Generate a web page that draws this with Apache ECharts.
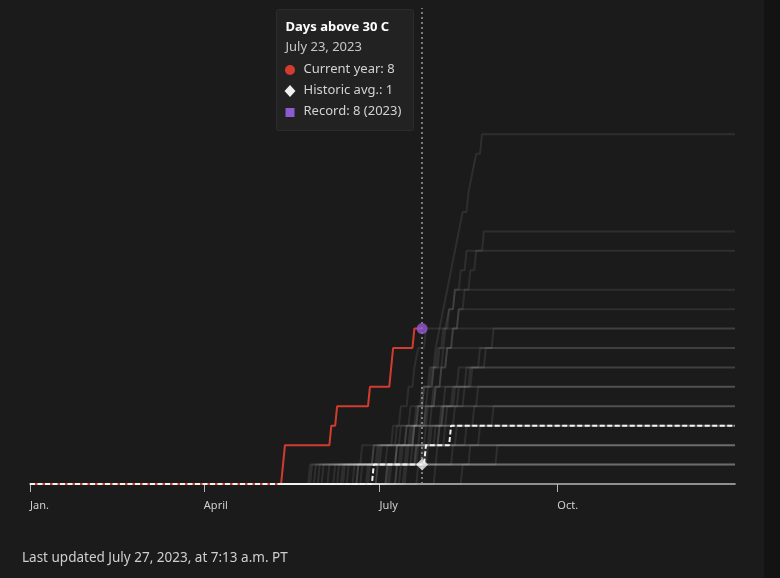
<!DOCTYPE html>
<html>
<head>
<meta charset="utf-8">
<script src="https://cdn.jsdelivr.net/npm/echarts@6/dist/echarts.min.js"></script>
<style>
    html, body {margin: 0; padding: 0; background: #1b1b1b;}
    #chart {width: 780px; height: 578px;}
</style>
</head>
<body>
<div id="chart"></div>
<script>
// x = day of year (Jan 1 = 0)
var tickDays     = [0, 90, 181, 273];
var tickLabels   = ['Jan.', 'April', 'July', 'Oct.'];
var yearEnd      = 365;
var lastDay      = 203;
var lastDayLabel = 'July 23, 2023';
var recordYear   = 2023;

// days above 30 C, this year
var currentHotDays = [131, 132, 156, 159, 176, 187, 188, 199];

// days where the historic average goes up by one
var avgStepDays = [178, 205, 218];

// past years, one list of hot days each
var pastHotDays = [
    [186, 192, 197, 201, 204, 207, 210, 212, 214, 216, 218, 220, 222, 224, 227, 229, 231, 234],
    [175, 190, 199, 205, 209, 213, 216, 219, 222, 225, 228, 231, 235],
    [170, 185, 195, 200, 204, 208, 211, 214, 217, 220, 223, 226],
    [180, 193, 199, 203, 206, 209, 212, 215, 217, 220],
    [185, 196, 202, 206, 210, 213, 216, 219, 222],
    [165, 178, 188, 192, 196, 199, 201, 205],
    [190, 201, 208, 214, 220, 226, 233, 240],
    [160, 182, 190, 197, 203, 209, 214],
    [195, 203, 210, 216, 222, 229, 236],
    [155, 180, 192, 201, 210, 222],
    [172, 198, 205, 213, 219, 228],
    [150, 178, 195, 205, 215],
    [168, 190, 199, 208, 225],
    [185, 200, 212, 220, 232],
    [146, 172, 198, 214],
    [162, 195, 207, 230],
    [190, 204, 215, 240],
    [148, 200, 221],
    [176, 206, 233],
    [158, 181, 212],
    [194, 211, 226],
    [152, 205],
    [180, 219],
    [163, 190],
    [192, 228],
    [201, 242],
    [145],
    [170],
    [187],
    [210],
    [224],
    [],
    []
];

function cumulative(days, endDay) {
    var pts = [[0, 0]], n = 0;
    for (var i = 0; i < days.length; i++) {
        pts.push([days[i] - 1, n]);
        n++;
        pts.push([days[i], n]);
    }
    pts.push([endDay, n]);
    return pts;
}

function countTo(days, day) {
    return days.filter(function (d) { return d <= day; }).length;
}

var curVal    = countTo(currentHotDays, lastDay);
var avgVal    = countTo(avgStepDays, lastDay);
var recordVal = curVal;
pastHotDays.forEach(function (y) { recordVal = Math.max(recordVal, countTo(y, lastDay)); });

var series = [];
pastHotDays.forEach(function (days) {
    series.push({
        type      : 'line',
        silent    : true,
        showSymbol: false,
        data      : cumulative(days, yearEnd),
        lineStyle : {color: 'rgba(255,255,255,0.085)', width: 2},
        z         : 1
    });
});

series.push({
    type      : 'line',
    silent    : true,
    showSymbol: false,
    data      : cumulative(currentHotDays, lastDay),
    lineStyle : {color: '#d23c2f', width: 2},
    z         : 3
});

series.push({
    type      : 'line',
    silent    : true,
    showSymbol: false,
    data      : cumulative(avgStepDays, yearEnd),
    lineStyle : {color: '#f2f2f2', width: 2, type: [5, 2.5]},
    z         : 4
});

series.push({
    type      : 'scatter',
    silent    : true,
    symbol    : 'diamond',
    symbolSize: 12,
    itemStyle : {color: '#f0f0f0'},
    data      : [[lastDay, avgVal]],
    z         : 5,
    markLine  : {
        silent   : true,
        symbol   : ['none', 'none'],
        label    : {show: false},
        lineStyle: {color: '#9a9a9a', width: 1.5, type: [2, 3]},
        data     : [{xAxis: lastDay}]
    }
});

series.push({
    type      : 'scatter',
    silent    : true,
    symbol    : 'circle',
    symbolSize: 11,
    itemStyle : {color: '#9459d6'},
    data      : [[lastDay, recordVal]],
    z         : 6
});

var font = '"Noto Sans", "Open Sans", sans-serif';

var chart = echarts.init(document.getElementById('chart'));
chart.setOption({
    backgroundColor: '#1b1b1b',
    animation: false,
    grid: {left: 30, right: 45, top: 8, bottom: 94},
    xAxis: {
        type: 'value',
        min : 0,
        max : yearEnd,
        splitLine: {show: false},
        axisLine : {show: true, lineStyle: {color: '#7a7a7a', width: 2}},
        axisTick : {show: true, customValues: tickDays, length: 8, lineStyle: {color: '#b5b5b5', width: 1}},
        axisLabel: {
            customValues: tickDays,
            align     : 'left',
            margin    : 16,
            color     : '#cfcfcf',
            fontSize  : 11,
            fontFamily: font,
            formatter : function (v) { return tickLabels[tickDays.indexOf(v)]; }
        }
    },
    yAxis: {type: 'value', min: 0, max: 24.5, show: false},
    series: series,
    graphic: [
        {type: 'rect', left: 764, top: 0, shape: {width: 16, height: 578}, style: {fill: '#131313'}, silent: true},
        {
            type: 'group', left: 276, top: 9, silent: true,
            children: [
                {type: 'rect', shape: {width: 137, height: 121, r: 2}, style: {fill: '#222222', stroke: '#2c2c2c', lineWidth: 1}},
                {type: 'text', x: 9, y: 11, style: {text: 'Days above 30 C', fill: '#ffffff', font: 'bold 13px ' + font}},
                {type: 'text', x: 9, y: 31, style: {text: lastDayLabel, fill: '#c8c8c8', font: '13px ' + font}},
                {type: 'circle', shape: {cx: 13.5, cy: 60.5, r: 5}, style: {fill: '#d63b30'}},
                {type: 'text', x: 27, y: 53, style: {text: 'Current year: ' + curVal, fill: '#d2d2d2', font: '13px ' + font}},
                {type: 'polygon', shape: {points: [[13.5, 75.5], [19, 81.5], [13.5, 87.5], [8, 81.5]]}, style: {fill: '#f0f0f0'}},
                {type: 'text', x: 27, y: 74, style: {text: 'Historic avg.: ' + avgVal, fill: '#d2d2d2', font: '13px ' + font}},
                {type: 'rect', shape: {x: 9, y: 98.5, width: 9, height: 9}, style: {fill: '#8d5bd0'}},
                {type: 'text', x: 27, y: 95, style: {text: 'Record: ' + recordVal + ' (' + recordYear + ')', fill: '#d2d2d2', font: '13px ' + font}}
            ]
        },
        {type: 'text', left: 22, top: 551, silent: true,
            style: {text: 'Last updated July 27, 2023, at 7:13 a.m. PT', fill: '#cfcfcf', font: '13.5px ' + font}}
    ]
});
</script>
</body>
</html>
